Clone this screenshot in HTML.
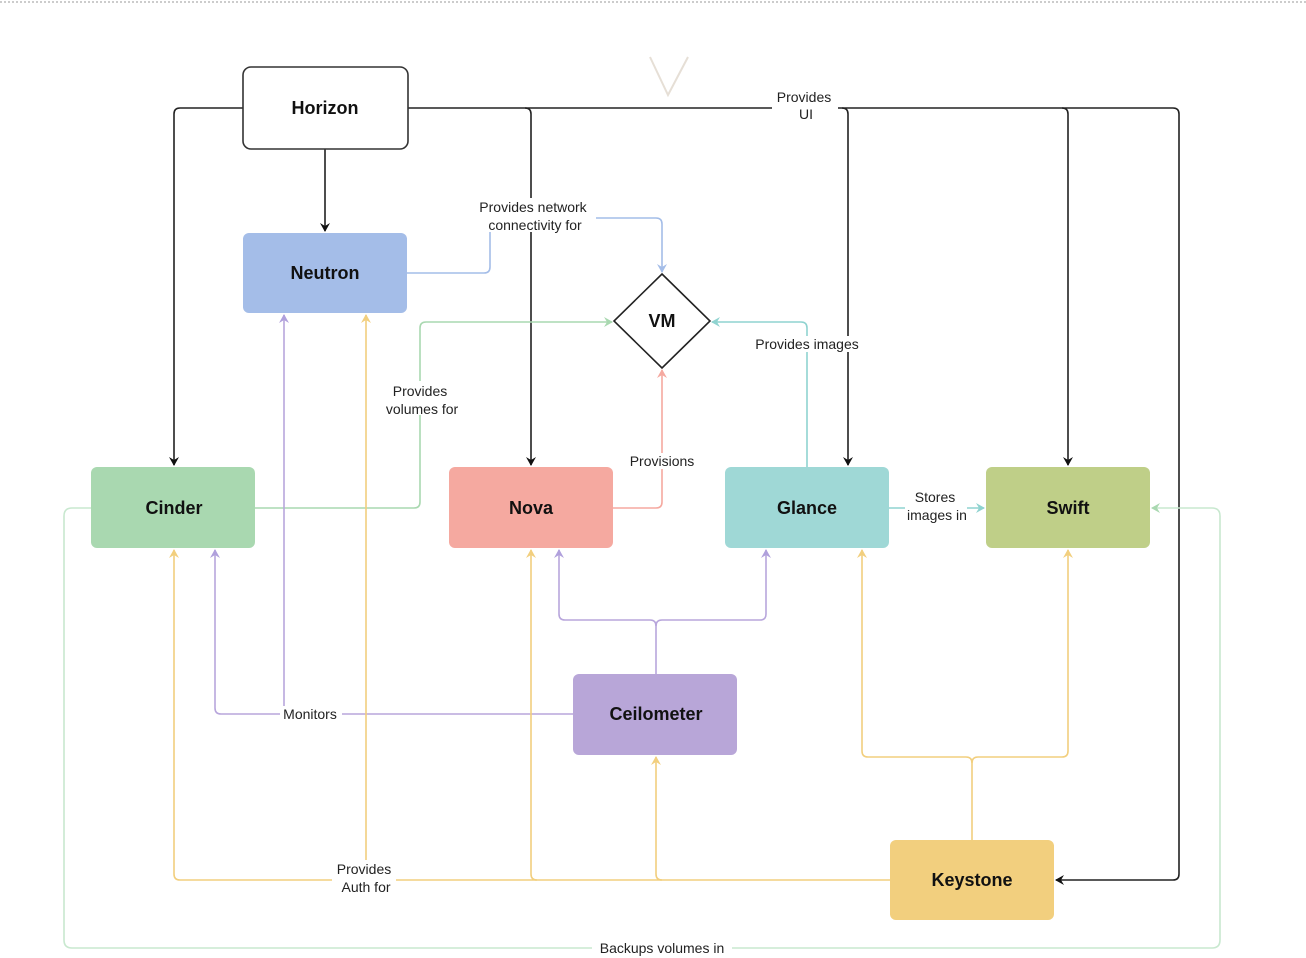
<!DOCTYPE html><html><head><style>body{margin:0;background:#fff}svg{display:block}text{font-family:"Liberation Sans",sans-serif}</style></head><body>
<svg width="1306" height="958" viewBox="0 0 1306 958" xmlns="http://www.w3.org/2000/svg">
<defs>
<marker id="k" markerWidth="10" markerHeight="10" refX="8" refY="5" orient="auto" markerUnits="userSpaceOnUse"><path d="M0,0 L9,5 L0,10 L3,5z" fill="#111"/></marker>
<marker id="b" markerWidth="10" markerHeight="10" refX="8" refY="5" orient="auto" markerUnits="userSpaceOnUse"><path d="M0,0 L9,5 L0,10 L3,5z" fill="#a4bde8"/></marker>
<marker id="g" markerWidth="10" markerHeight="10" refX="8" refY="5" orient="auto" markerUnits="userSpaceOnUse"><path d="M0,0 L9,5 L0,10 L3,5z" fill="#a9d8b0"/></marker>
<marker id="t" markerWidth="10" markerHeight="10" refX="8" refY="5" orient="auto" markerUnits="userSpaceOnUse"><path d="M0,0 L9,5 L0,10 L3,5z" fill="#8fd3d0"/></marker>
<marker id="r" markerWidth="10" markerHeight="10" refX="8" refY="5" orient="auto" markerUnits="userSpaceOnUse"><path d="M0,0 L9,5 L0,10 L3,5z" fill="#f5a9a0"/></marker>
<marker id="p" markerWidth="10" markerHeight="10" refX="8" refY="5" orient="auto" markerUnits="userSpaceOnUse"><path d="M0,0 L9,5 L0,10 L3,5z" fill="#b0a0dc"/></marker>
<marker id="y" markerWidth="10" markerHeight="10" refX="8" refY="5" orient="auto" markerUnits="userSpaceOnUse"><path d="M0,0 L9,5 L0,10 L3,5z" fill="#f2cf7e"/></marker>
</defs>
<line x1="0" y1="2" x2="1306" y2="2" stroke="#999" stroke-dasharray="2,2"/>
<path d="M650,57 L668,95 L688,57" fill="none" stroke="#e6dfd6" stroke-width="2"/>
<g fill="none" stroke-width="1.6">
<!-- black -->
<g stroke="#222">
<path d="M243,108 H180 Q174,108 174,114 V465" marker-end="url(#k)"/>
<path d="M408,108 H1173 Q1179,108 1179,114 V874 Q1179,880 1173,880 H1056" marker-end="url(#k)"/>
<path d="M525,108 Q531,108 531,114 V465" marker-end="url(#k)"/>
<path d="M842,108 Q848,108 848,114 V465" marker-end="url(#k)"/>
<path d="M1062,108 Q1068,108 1068,114 V465" marker-end="url(#k)"/>
<path d="M325,149 V231" marker-end="url(#k)"/>
</g>
<path d="M407,273 H484 Q490,273 490,267 V224 Q490,218 496,218 H656 Q662,218 662,224 V272" stroke="#a4bde8" marker-end="url(#b)"/>
<path d="M255,508 H414 Q420,508 420,502 V328 Q420,322 426,322 H612" stroke="#a9d8b0" marker-end="url(#g)"/>
<path d="M807,467 V328 Q807,322 801,322 H712" stroke="#8fd3d0" marker-end="url(#t)"/>
<path d="M889,508 H984" stroke="#8fd3d0" marker-end="url(#t)"/>
<path d="M613,508 H656 Q662,508 662,502 V370" stroke="#f5a9a0" marker-end="url(#r)"/>
<g stroke="#b8a6dc">
<path d="M656,674 V626 Q656,620 650,620 H565 Q559,620 559,614 V550" marker-end="url(#p)"/>
<path d="M656,626 Q656,620 662,620 H760 Q766,620 766,614 V550" marker-end="url(#p)"/>
<path d="M573,714 H221 Q215,714 215,708 V550" marker-end="url(#p)"/>
<path d="M284,714 V315" marker-end="url(#p)"/>
</g>
<g stroke="#f2cf7e">
<path d="M890,880 H180 Q174,880 174,874 V550" marker-end="url(#y)"/>
<path d="M366,880 V315" marker-end="url(#y)"/>
<path d="M537,880 Q531,880 531,874 V550" marker-end="url(#y)"/>
<path d="M662,880 Q656,880 656,874 V757" marker-end="url(#y)"/>
<path d="M972,840 V763 Q972,757 966,757 H868 Q862,757 862,751 V550" marker-end="url(#y)"/>
<path d="M972,763 Q972,757 978,757 H1062 Q1068,757 1068,751 V550" marker-end="url(#y)"/>
</g>
<path d="M91,508 H72 Q64,508 64,516 V940 Q64,948 72,948 H1212 Q1220,948 1220,940 V516 Q1220,508 1212,508 H1152" stroke="#c8e8cf" marker-end="url(#g)"/>
</g>
<!-- label backgrounds -->
<g fill="#fff">
<rect x="772" y="88" width="66" height="30"/><rect x="472" y="198" width="124" height="34"/>
<rect x="380" y="381" width="84" height="34"/><rect x="750" y="336" width="114" height="16"/>
<rect x="626" y="453" width="74" height="16"/><rect x="905" y="488" width="62" height="34"/>
<rect x="280" y="706" width="62" height="16"/><rect x="332" y="860" width="64" height="34"/>
<rect x="592" y="940" width="140" height="16"/>
</g>
<!-- nodes -->
<rect x="243" y="67" width="165" height="82" rx="8" fill="#fff" stroke="#333" stroke-width="1.6"/>
<rect x="243" y="233" width="164" height="80" rx="6" fill="#a4bde8"/>
<rect x="91" y="467" width="164" height="81" rx="6" fill="#a9d8b0"/>
<rect x="449" y="467" width="164" height="81" rx="6" fill="#f5a9a0"/>
<rect x="725" y="467" width="164" height="81" rx="6" fill="#9fd8d6"/>
<rect x="986" y="467" width="164" height="81" rx="6" fill="#bfcf88"/>
<rect x="573" y="674" width="164" height="81" rx="6" fill="#b8a6d8"/>
<rect x="890" y="840" width="164" height="80" rx="6" fill="#f2cf7e"/>
<path d="M662,274 L710,321 L662,368 L614,321z" fill="#fff" stroke="#222" stroke-width="1.6"/>
<g font-weight="bold" font-size="18" text-anchor="middle" fill="#111">
<text x="325" y="114">Horizon</text><text x="325" y="279">Neutron</text>
<text x="174" y="514">Cinder</text><text x="531" y="514">Nova</text>
<text x="807" y="514">Glance</text><text x="1068" y="514">Swift</text>
<text x="656" y="720">Ceilometer</text><text x="972" y="886">Keystone</text>
<text x="662" y="327">VM</text>
</g>
<g font-size="14" text-anchor="middle" fill="#222">
<text x="804" y="102">Provides</text><text x="806" y="119">UI</text>
<text x="533" y="212">Provides network</text><text x="535" y="230">connectivity for</text>
<text x="420" y="396">Provides</text><text x="422" y="414">volumes for</text>
<text x="807" y="349">Provides images</text>
<text x="662" y="466">Provisions</text>
<text x="935" y="502">Stores</text><text x="937" y="520">images in</text>
<text x="310" y="719">Monitors</text>
<text x="364" y="874">Provides</text><text x="366" y="892">Auth for</text>
<text x="662" y="953">Backups volumes in</text>
</g>
</svg></body></html>
